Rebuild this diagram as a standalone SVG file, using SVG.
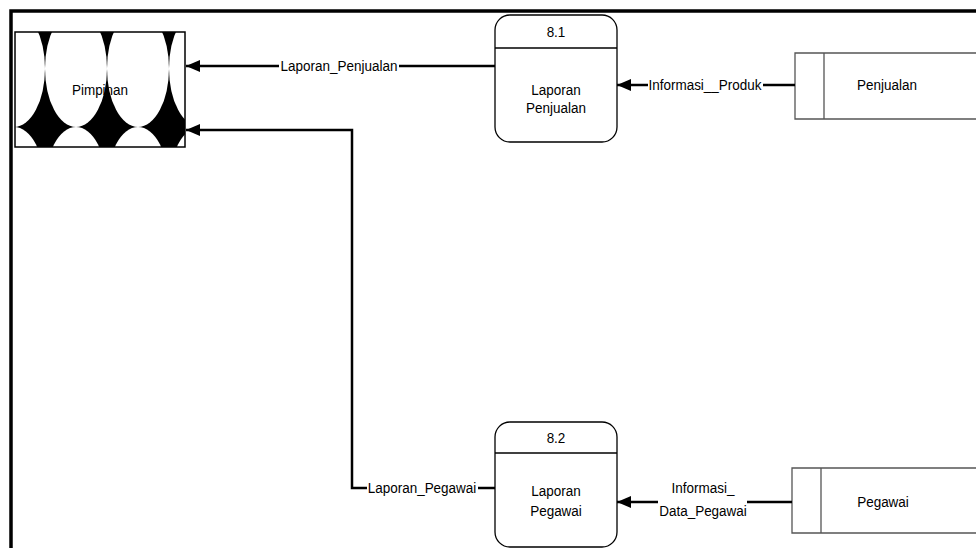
<svg xmlns="http://www.w3.org/2000/svg" width="976" height="548" viewBox="0 0 976 548">
<style>
text{font-family:"Liberation Sans",Arial,sans-serif;font-size:15.5px;fill:#000;text-anchor:middle;dominant-baseline:central}
.flow{fill:none;stroke:#000;stroke-width:2.5}
.proc{fill:#fff;stroke:#000;stroke-width:1.3}
.store{fill:none;stroke:#555;stroke-width:1.3}
</style>
<defs>
<marker id="ah" viewBox="0 0 14 12" refX="14" refY="6" markerWidth="14" markerHeight="12" markerUnits="userSpaceOnUse" orient="auto">
<path d="M0,0 L14,6 L0,12 Z" fill="#000"/>
</marker>
<pattern id="pat" patternUnits="userSpaceOnUse" x="-17" y="10" width="62" height="117">
<rect width="62" height="117" fill="#000"/>
<ellipse cx="31" cy="58.5" rx="31" ry="58.5" fill="#fff"/>
</pattern>
</defs>
<rect width="976" height="548" fill="#fff"/>
<path d="M11,548 V11 H976" fill="none" stroke="#000" stroke-width="3.5"/>
<g id="pimpinan">
<rect x="15" y="32" width="170" height="115" fill="url(#pat)" stroke="#000" stroke-width="1.5"/>
<text transform="matrix(0.87 0 0 1 100 90)">Pimpinan</text>
</g>
<g id="p81">
<rect class="proc" x="495" y="15" width="122" height="127" rx="15"/>
<line x1="495" y1="48" x2="617" y2="48" stroke="#000" stroke-width="1.3"/>
<text transform="matrix(0.87 0 0 1 556 32)">8.1</text>
<text transform="matrix(0.87 0 0 1 556 90)">Laporan</text>
<text transform="matrix(0.87 0 0 1 556 108)">Penjualan</text>
</g>
<g id="p82">
<rect class="proc" x="495" y="422" width="122" height="125" rx="15"/>
<line x1="495" y1="453" x2="617" y2="453" stroke="#000" stroke-width="1.3"/>
<text transform="matrix(0.87 0 0 1 556 438)">8.2</text>
<text transform="matrix(0.87 0 0 1 556 491)">Laporan</text>
<text transform="matrix(0.87 0 0 1 556 511)">Pegawai</text>
</g>
<g id="penjualan">
<path class="store" d="M980,53 H795 V119 H980 M824,53 V119"/>
<text transform="matrix(0.87 0 0 1 887 85)">Penjualan</text>
</g>
<g id="pegawai">
<path class="store" d="M980,468 H792 V533 H980 M821,468 V533"/>
<text transform="matrix(0.87 0 0 1 883 502)">Pegawai</text>
</g>
<g id="connectors">
<path class="flow" d="M495,66 H399"/>
<path class="flow" d="M279,66 H186" marker-end="url(#ah)"/>
<text transform="matrix(0.87 0 0 1 339 66)">Laporan_Penjualan</text>
<path class="flow" d="M795,85 H763"/>
<path class="flow" d="M648,85 H617" marker-end="url(#ah)"/>
<text transform="matrix(0.87 0 0 1 705 85)">Informasi__Produk</text>
<path class="flow" d="M495,488 H478"/>
<path class="flow" d="M367,488 H352 V130 H186" marker-end="url(#ah)"/>
<text transform="matrix(0.87 0 0 1 422 488)">Laporan_Pegawai</text>
<path class="flow" d="M792,502 H747"/>
<path class="flow" d="M658,502 H617" marker-end="url(#ah)"/>
<text transform="matrix(0.87 0 0 1 703 488)">Informasi_</text>
<text transform="matrix(0.87 0 0 1 703 511)">Data_Pegawai</text>
</g>
</svg>
